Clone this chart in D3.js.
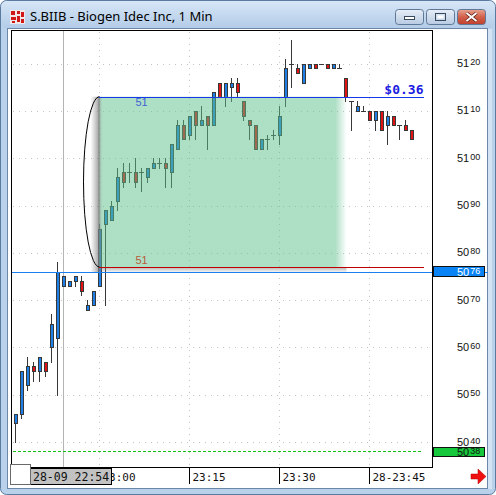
<!DOCTYPE html>
<html><head><meta charset="utf-8">
<script src="https://cdn.jsdelivr.net/npm/d3@7"></script>
<style>html,body{margin:0;padding:0;background:#fff;overflow:hidden}svg{display:block}</style>
</head><body>
<svg id="c" width="496" height="495"></svg>
<script>
// ---------- data ----------
const titleText = "S.BIIB - Biogen Idec Inc, 1 Min";
const firstBar = "22:46";
const opens  = [5044,5046,5052,5056,5055,5057,5060,5062,5073,5073,5074,5074,5068,5069,5073,5086,5087,5091,5097,5097,5097,5097,5096,5098,5099,5099,5097,5102,5107,5105,5110,5107,5109,5107,5116,5113,5115,5116,5112,5108,5107,5102,5104,5105,5105,5113,5120,5119,5116,5119,5120,5120,5120,5119,5119,5117,5112,5110,5110,5110,5108,5110,5107,5109,5107,5107,5106];
const highs  = [5046,5055,5058,5057,5058,5057,5067,5078,5075,5074,5075,5075,5070,5072,5086,5089,5091,5098,5099,5099,5100,5098,5098,5100,5100,5100,5103,5108,5108,5109,5110,5111,5109,5114,5116,5116,5117,5117,5112,5108,5107,5104,5105,5106,5111,5121,5125,5120,5120,5120,5120,5120,5120,5120,5120,5117,5112,5112,5111,5110,5110,5110,5110,5109,5107,5108,5106];
const lows   = [5040,5045,5051,5053,5053,5054,5057,5050,5073,5073,5073,5071,5068,5069,5073,5069,5087,5089,5094,5095,5094,5093,5095,5098,5098,5094,5094,5102,5104,5104,5104,5107,5102,5107,5113,5111,5112,5113,5108,5104,5102,5102,5102,5104,5103,5111,5115,5118,5116,5119,5119,5120,5119,5119,5119,5112,5106,5110,5110,5108,5106,5106,5103,5107,5104,5106,5104];
const closes = [5046,5055,5056,5055,5058,5055,5065,5076,5075,5074,5075,5072,5069,5072,5085,5089,5090,5096,5095,5097,5095,5097,5098,5099,5099,5098,5103,5107,5104,5109,5107,5108,5107,5114,5113,5116,5116,5114,5109,5107,5102,5104,5104,5105,5109,5119,5120,5118,5120,5120,5119,5120,5119,5120,5119,5113,5112,5111,5110,5108,5110,5106,5109,5107,5107,5106,5104];
const priceTicks = [5040,5050,5060,5070,5080,5090,5100,5110,5120];
const timeTicks = ["23:00","23:15","23:30","23:45"];
const timeTickLabels = ["23:00","23:15","23:30","28-23:45"];
const crossTime = "22:54", crossTimeLabel = "28-09 22:54";
const crossPrice = 5076, crossPriceLabel = "5076";
const lastPrice = 5038, lastPriceLabel = "5038";
const measureStart = "23:00", measureBoxEnd = "23:41", measureLineEnd = "23:54";
const measureHigh = 5113, measureLow = 5077;
const measureLabels = ["51","51"];

// ---------- setup ----------
const svg = d3.select("#c");
const parse = d3.timeParse("%H:%M");
const t0 = parse(firstBar);
const bars = opens.map((o,i)=>({t:d3.timeMinute.offset(t0,i),o,h:highs[i],l:lows[i],c:closes[i]}));
const xs = d3.scaleTime().domain([t0, bars[bars.length-1].t]).range([15.5, 411.5]);
const ys = d3.scaleLinear().domain([5040,5120]).range([442,63.6]);
const px = v => Math.round(v)+0.5;
const defs = svg.append("defs");

// ---------- window frame ----------
const tg = defs.append("linearGradient").attr("id","tbar").attr("x1",0).attr("x2",0).attr("y1",0).attr("y2",1);
tg.append("stop").attr("offset","0%").attr("stop-color","#d6e6f6");
tg.append("stop").attr("offset","100%").attr("stop-color","#b3cce8");
svg.append("rect").attr("x",0.5).attr("y",0.5).attr("width",495).attr("height",494).attr("rx",6)
  .attr("fill","#b9d1ea").attr("stroke","#5a7aa0");
svg.append("rect").attr("x",1).attr("y",1).attr("width",494).attr("height",27).attr("rx",6).attr("fill","url(#tbar)");
svg.append("rect").attr("x",488).attr("y",29).attr("width",4).attr("height",460).attr("fill","#d3e3f4");
// icon
const ic = svg.append("g");
ic.append("rect").attr("x",10).attr("y",10).attr("width",15).attr("height",14).attr("fill","#f0e8e8");
[[11,11,4,4],[17,11,3,3],[21,12,3,5],[11,17,5,3],[17,16,3,6],[21,19,3,4],[12,21,3,2]].forEach(r=>
  ic.append("rect").attr("x",r[0]).attr("y",r[1]).attr("width",r[2]).attr("height",r[3]).attr("fill","#d01818"));
svg.append("text").attr("x",30).attr("y",20.5).attr("font-family","'Noto Sans', 'DejaVu Sans', sans-serif")
  .attr("font-size",13).attr("fill","#000").text(titleText);
// buttons
const bg = defs.append("linearGradient").attr("id","btn").attr("x1",0).attr("x2",0).attr("y1",0).attr("y2",1);
bg.append("stop").attr("offset","0%").attr("stop-color","#e6eef8");
bg.append("stop").attr("offset","50%").attr("stop-color","#cfdcec");
bg.append("stop").attr("offset","100%").attr("stop-color","#b8cbe3");
const rg = defs.append("linearGradient").attr("id","cbtn").attr("x1",0).attr("x2",0).attr("y1",0).attr("y2",1);
rg.append("stop").attr("offset","0%").attr("stop-color","#e8a593");
rg.append("stop").attr("offset","50%").attr("stop-color","#d2604a");
rg.append("stop").attr("offset","100%").attr("stop-color","#c0402c");
[[395.5,"url(#btn)"],[426.5,"url(#btn)"],[457.5,"url(#cbtn)"]].forEach(b=>
  svg.append("rect").attr("x",b[0]).attr("y",9.5).attr("width",28).attr("height",15).attr("rx",3)
    .attr("fill",b[1]).attr("stroke","#5e7896"));
svg.append("rect").attr("x",404.5).attr("y",16.5).attr("width",10).attr("height",3).attr("fill","#fff").attr("stroke","#3a4a5e");
svg.append("rect").attr("x",435.5).attr("y",13.5).attr("width",10).attr("height",7).attr("fill","none").attr("stroke","#3a4a5e").attr("stroke-width",1);
svg.append("rect").attr("x",437.5).attr("y",15.5).attr("width",6).attr("height",3).attr("fill","#fff");
svg.append("path").attr("d","M466.5,13 L476.5,21 M476.5,13 L466.5,21").attr("stroke","#5a1a10").attr("stroke-width",3.5);
svg.append("path").attr("d","M466.5,13 L476.5,21 M476.5,13 L466.5,21").attr("stroke","#fff").attr("stroke-width",2);

// client area
svg.append("rect").attr("x",7.5).attr("y",28.5).attr("width",480).attr("height",460).attr("fill","#fff").attr("stroke","#6c87a8");

// ---------- plot ----------
const plotL = 11.5, plotR = 432.5, plotT = 30.5, plotB = 467.5;
const grid = svg.append("g").attr("shape-rendering","crispEdges");
grid.selectAll("line.h").data(priceTicks).join("line")
  .attr("x1",plotL+1).attr("x2",plotR-1).attr("y1",d=>px(ys(d))).attr("y2",d=>px(ys(d)))
  .attr("stroke","#c4c4c4").attr("stroke-dasharray","1,5");
grid.selectAll("line.v").data(timeTicks).join("line")
  .attr("y1",plotT+1).attr("y2",plotB-1).attr("x1",d=>xs(parse(d))).attr("x2",d=>xs(parse(d)))
  .attr("stroke","#c4c4c4").attr("stroke-dasharray","1,5");
// vertical crosshair
svg.append("line").attr("x1",xs(parse(crossTime))).attr("x2",xs(parse(crossTime))).attr("y1",plotT).attr("y2",plotB)
  .attr("stroke","#b4b4b4").attr("shape-rendering","crispEdges");

// candles
const cg = svg.append("g").attr("shape-rendering","crispEdges");
cg.selectAll("line.w").data(bars).join("line")
  .attr("x1",d=>xs(d.t)).attr("x2",d=>xs(d.t))
  .attr("y1",d=>Math.round(ys(d.h))).attr("y2",d=>Math.round(ys(d.l))+1)
  .attr("stroke","#383838");
bars.forEach(d=>{
  const cx = xs(d.t);
  const top = Math.round(ys(Math.max(d.o,d.c))), bot = Math.round(ys(Math.min(d.o,d.c)));
  if (d.o === d.c) {
    cg.append("rect").attr("x",cx-2.5).attr("y",top).attr("width",5).attr("height",1).attr("fill","#383838");
    return;
  }
  cg.append("rect").attr("x",cx-1.5).attr("y",top).attr("width",4).attr("height",bot-top+1).attr("fill","#383838");
  if (bot-top-1 > 0)
    cg.append("rect").attr("x",cx-0.5).attr("y",top+1).attr("width",2).attr("height",bot-top-1)
      .attr("fill", d.c > d.o ? "#1e7fe6" : "#e01414");
});

// measurement box overlay
const mx0 = xs(parse(measureStart)), mx1 = xs(parse(measureBoxEnd)), mxe = xs(parse(measureLineEnd));
const myT = ys(measureHigh), myB = ys(measureLow);
const gg = defs.append("linearGradient").attr("id","gbox").attr("x1",0).attr("x2",1).attr("y1",0).attr("y2",0);
gg.append("stop").attr("offset","0%").attr("stop-color","#787878").attr("stop-opacity",0.75);
gg.append("stop").attr("offset","1.5%").attr("stop-color","#5cc08c").attr("stop-opacity",0.5);
gg.append("stop").attr("offset","95.5%").attr("stop-color","#5cc08c").attr("stop-opacity",0.5);
gg.append("stop").attr("offset","100%").attr("stop-color","#5cc08c").attr("stop-opacity",0);
const sh = defs.append("linearGradient").attr("id","lsh").attr("x1",0).attr("x2",1).attr("y1",0).attr("y2",0);
sh.append("stop").attr("offset","0%").attr("stop-color","#8a8a8a").attr("stop-opacity",0);
sh.append("stop").attr("offset","100%").attr("stop-color","#7a7a7a").attr("stop-opacity",0.75);
const bs = defs.append("linearGradient").attr("id","bsh").attr("x1",0).attr("x2",0).attr("y1",0).attr("y2",1);
bs.append("stop").attr("offset","0%").attr("stop-color","#808080").attr("stop-opacity",0.6);
bs.append("stop").attr("offset","100%").attr("stop-color","#808080").attr("stop-opacity",0);
svg.append("rect").attr("x",mx0-9).attr("y",myT).attr("width",9).attr("height",myB-myT+5).attr("fill","url(#lsh)");
svg.append("rect").attr("x",mx0-1).attr("y",myB).attr("width",mx1-mx0+2).attr("height",6).attr("fill","url(#bsh)");
svg.append("rect").attr("x",mx0-1).attr("y",myT).attr("width",mx1-mx0+2).attr("height",myB-myT).attr("fill","url(#gbox)");
// bracket arc
svg.append("path").attr("d",`M${mx0},${myT} A16,${(myB-myT)/2} 0 0 0 ${mx0},${myB}`)
  .attr("fill","none").attr("stroke","#000").attr("stroke-width",1);
svg.append("line").attr("x1",mx0-1).attr("x2",mxe).attr("y1",px(myT)).attr("y2",px(myT)).attr("stroke","#1838e8").attr("shape-rendering","crispEdges");
svg.append("line").attr("x1",mx0-1).attr("x2",mxe).attr("y1",px(myB)).attr("y2",px(myB)).attr("stroke","#c00000").attr("shape-rendering","crispEdges");
svg.append("text").attr("x",mx0+36).attr("y",myT+9.5).attr("font-family","'Liberation Sans',Arial,sans-serif").attr("font-size",11)
  .attr("fill","#4262d4").text(measureLabels[0]);
svg.append("text").attr("x",mx0+36).attr("y",myB-3).attr("font-family","'Liberation Sans',Arial,sans-serif").attr("font-size",11)
  .attr("fill","#b85c3c").text(measureLabels[1]);
svg.append("text").attr("x",mxe).attr("y",myT-3).attr("text-anchor","end")
  .attr("font-family","'DejaVu Sans Mono',monospace").attr("font-weight","bold").attr("font-size",13)
  .attr("fill","#1c1ce0").text("$" + d3.format(".2f")((measureHigh-measureLow)/100));

// last price dashed line
svg.append("line").attr("x1",plotL+1).attr("x2",mxe-3).attr("y1",px(ys(lastPrice))).attr("y2",px(ys(lastPrice)))
  .attr("stroke","#10c010").attr("stroke-dasharray","3,2").attr("shape-rendering","crispEdges");
// horizontal crosshair
svg.append("line").attr("x1",plotL).attr("x2",488).attr("y1",px(ys(crossPrice))).attr("y2",px(ys(crossPrice)))
  .attr("stroke","#1a80f0").attr("shape-rendering","crispEdges");

// plot frame
svg.append("path").attr("d",`M${plotL},${plotB-3} V${plotT} H${plotR} V${plotB} H30`)
  .attr("fill","none").attr("stroke","#000").attr("shape-rendering","crispEdges");

// ---------- right axis ----------
const ax = svg.append("g").attr("font-family","'Liberation Sans',Arial,sans-serif").attr("fill","#111");
function priceLabel(g, v, y, main, sup, fill) {
  const t = g.append("text").attr("x",457).attr("y",y).attr("fill",fill);
  t.append("tspan").attr("font-size",11).text(main);
  t.append("tspan").attr("font-size",9).attr("dx",1).attr("dy",-2).text(sup);
}
priceTicks.forEach(v=>{
  const s = String(v);
  priceLabel(ax, v, ys(v)+3.5, s.slice(0,2), s.slice(2), "#111");
});
// crosshair price box
const cpY = px(ys(crossPrice));
svg.append("rect").attr("x",433.5).attr("y",cpY-6).attr("width",51).attr("height",10).attr("fill","#0a84f4").attr("stroke","#111").attr("shape-rendering","crispEdges");
priceLabel(svg.append("g").attr("font-family","'Liberation Sans',Arial,sans-serif"), crossPrice, cpY+3.5, crossPriceLabel.slice(0,2), crossPriceLabel.slice(2), "#fff");
const lpY = px(ys(lastPrice));
svg.append("rect").attr("x",433.5).attr("y",lpY-4).attr("width",51).attr("height",9).attr("fill","#16c83c").attr("stroke","#111").attr("shape-rendering","crispEdges");
priceLabel(svg.append("g").attr("font-family","'Liberation Sans',Arial,sans-serif"), lastPrice, lpY+4.5, lastPriceLabel.slice(0,2), lastPriceLabel.slice(2), "#111");

// ---------- bottom axis ----------
const clip = defs.append("clipPath").attr("id","axclip");
clip.append("rect").attr("x",112).attr("y",466).attr("width",320).attr("height",22);
const bx = svg.append("g").attr("font-family","'DejaVu Sans Mono',monospace").attr("font-size",11);
timeTicks.forEach((t,i)=>{
  const x = xs(parse(t));
  bx.append("line").attr("x1",x).attr("x2",x).attr("y1",468).attr("y2",484).attr("stroke","#000").attr("shape-rendering","crispEdges");
  bx.append("text").attr("x",x+3).attr("y",480.5).attr("fill","#111").attr("clip-path","url(#axclip)").text(timeTickLabels[i]);
});
svg.append("rect").attr("x",30.5).attr("y",468.5).attr("width",81).attr("height",16).attr("fill","#c2c2c2").attr("stroke","#000").attr("shape-rendering","crispEdges");
svg.append("text").attr("x",33).attr("y",480.5).attr("font-family","'DejaVu Sans Mono',monospace").attr("font-size",11.5).attr("fill","#111").text(crossTimeLabel);
svg.append("rect").attr("x",10.5).attr("y",464.5).attr("width",20).attr("height",20).attr("fill","#fff").attr("stroke","#6a6a6a").attr("stroke-width",1.5).attr("shape-rendering","crispEdges");
// red arrow
svg.append("path").attr("d","M471,474 H478 V469 L486,476.5 L478,484 V479 H471 Z").attr("fill","#f01010").attr("stroke","#b00000").attr("stroke-width",0.5);
</script>
</body></html>
